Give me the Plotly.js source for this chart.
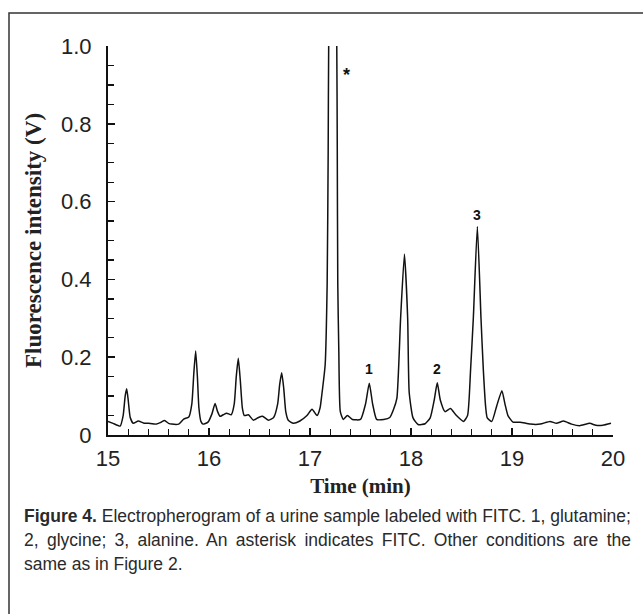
<!DOCTYPE html>
<html>
<head>
<meta charset="utf-8">
<script src="https://cdn.plot.ly/plotly-3.0.1.min.js"></script>
<style>
html,body{margin:0;padding:0;background:#fff;}
#chart{width:643px;height:614px;}
</style>
</head>
<body>
<div id="chart"></div>
<script>
// Electropherogram trace (time in min, intensity in V)
const timeMin = [15.00,15.05,15.12,15.15,15.17,15.185,15.20,15.22,15.25,15.30,15.35,15.40,15.48,15.52,15.56,15.60,15.63,15.70,15.75,15.80,
  15.83,15.85,15.868,15.885,15.90,15.92,15.94,15.99,16.03,16.06,16.085,16.11,16.14,16.175,16.22,16.25,16.27,16.29,16.31,16.33,
  16.35,16.39,16.44,16.49,16.53,16.59,16.64,16.68,16.70,16.72,16.74,16.76,16.785,16.835,16.90,16.97,17.02,17.07,17.10,17.115,
  17.15,17.17,17.18,17.185,17.225,17.265,17.27,17.275,17.285,17.30,17.33,17.37,17.42,17.50,17.55,17.587,17.62,17.66,17.73,17.79,
  17.825,17.86,17.897,17.935,17.967,17.982,18.02,18.07,18.14,18.19,18.23,18.26,18.29,18.337,18.39,18.45,18.52,18.56,18.59,18.617,
  18.657,18.693,18.716,18.74,18.755,18.80,18.85,18.90,18.93,18.96,19.01,19.08,19.18,19.28,19.376,19.44,19.51,19.59,19.67,19.77,
  19.83,19.90,19.98];
const intensityV = [0.035,0.030,0.023,0.050,0.100,0.119,0.090,0.045,0.030,0.036,0.031,0.030,0.028,0.032,0.037,0.030,0.028,0.028,0.041,0.046,
  0.080,0.160,0.216,0.150,0.070,0.035,0.028,0.033,0.055,0.081,0.060,0.048,0.052,0.056,0.052,0.080,0.150,0.197,0.140,0.070,
  0.050,0.052,0.038,0.045,0.048,0.038,0.045,0.080,0.130,0.160,0.120,0.060,0.038,0.030,0.036,0.050,0.066,0.050,0.070,0.099,
  0.180,0.390,0.730,1.000,1.600,1.000,0.733,0.390,0.220,0.060,0.040,0.050,0.040,0.040,0.080,0.133,0.080,0.040,0.040,0.045,
  0.064,0.094,0.300,0.465,0.300,0.110,0.044,0.027,0.029,0.044,0.090,0.134,0.090,0.060,0.068,0.050,0.035,0.050,0.168,0.300,
  0.536,0.300,0.168,0.070,0.044,0.035,0.076,0.114,0.080,0.050,0.033,0.033,0.028,0.028,0.035,0.030,0.036,0.028,0.024,0.030,
  0.025,0.025,0.030];

// Peak labels
const peakLabels = ["*", "1", "2", "3"];
const peakLabelX = [17.36, 17.585, 18.26, 18.655];
const peakLabelY = [0.925, 0.17, 0.17, 0.565];

// Axis ticks
const xTickVals = [15, 16, 17, 18, 19, 20];
const xTickText = ["15", "16", "17", "18", "19", "20"];
const yTickVals = [0, 0.2, 0.4, 0.6, 0.8, 1.0];
const yTickText = ["0", "0.2", "0.4", "0.6", "0.8", "1.0"];

// Caption lines
const captionLines = [
  "<b>Figure 4.</b> Electropherogram of a urine sample labeled with FITC. 1, glutamine;",
  "2, glycine; 3, alanine. An asterisk indicates FITC. Other conditions are the",
  "same as in Figure 2."
];

const W = 643, H = 614;
const L = 108, R = 613, T = 46, B = 435;
const pw = R - L, ph = B - T;
const px2paperX = p => (p - L) / pw;
const px2paperY = p => (B - p) / ph;

const annotations = [];
peakLabels.forEach((t, i) => {
  annotations.push({
    x: peakLabelX[i], y: peakLabelY[i], xref: 'x', yref: 'y', text: t, showarrow: false,
    font: {family: 'Liberation Sans, Arial, sans-serif', size: t === '*' ? 18 : 14, color: '#111', weight: 'bold'},
    xanchor: 'center', yanchor: 'middle'
  });
});
const capY = [516, 540, 564];
captionLines.forEach((t, i) => {
  annotations.push({
    x: px2paperX(22), y: px2paperY(capY[i]), xref: 'paper', yref: 'paper', text: t, showarrow: false,
    xanchor: 'left', yanchor: 'middle', align: 'left',
    font: {family: 'Liberation Sans, Arial, sans-serif', size: 17.5, color: '#2a2a2a'}
  });
});

const data = [{
  x: timeMin, y: intensityV, type: 'scatter', mode: 'lines',
  line: {color: '#111', width: 1.5, shape: 'spline', smoothing: 0.5},
  hoverinfo: 'skip'
}];

const layout = {
  width: W, height: H,
  margin: {l: L, r: W - R, t: T, b: H - B, pad: 0},
  paper_bgcolor: '#ffffff', plot_bgcolor: '#ffffff',
  showlegend: false,
  xaxis: {
    range: [15, 20], showgrid: false, zeroline: false,
    showline: true, linecolor: '#111', linewidth: 2,
    ticks: 'inside', ticklen: 7, tickwidth: 1.5, tickcolor: '#111',
    tickvals: xTickVals, ticktext: xTickText,
    minor: {dtick: 0.2, tick0: 15, ticks: 'inside', ticklen: 6, tickwidth: 1.3, tickcolor: '#111'},
    tickfont: {family: 'Liberation Sans, Arial, sans-serif', size: 22, color: '#222'},
    ticklabelstandoff: 3,
    title: {text: '<b>Time (min)</b>', standoff: 8,
      font: {family: 'Liberation Serif, Times New Roman, serif', size: 21, color: '#222'}}
  },
  yaxis: {
    range: [0, 1], showgrid: false, zeroline: false,
    showline: true, linecolor: '#111', linewidth: 2,
    ticks: 'inside', ticklen: 7, tickwidth: 1.5, tickcolor: '#111',
    tickvals: yTickVals, ticktext: yTickText,
    minor: {dtick: 0.05, tick0: 0, ticks: 'inside', ticklen: 6, tickwidth: 1.3, tickcolor: '#111'},
    tickfont: {family: 'Liberation Sans, Arial, sans-serif', size: 22, color: '#222'},
    ticklabelstandoff: 10,
    title: {text: '<b>Fluorescence intensity (V)</b>', standoff: 13,
      font: {family: 'Liberation Serif, Times New Roman, serif', size: 23, color: '#222'}}
  },
  annotations: annotations,
  shapes: [{
    type: 'rect', xref: 'paper', yref: 'paper', layer: 'below',
    x0: px2paperX(9), x1: px2paperX(660), y0: px2paperY(640), y1: px2paperY(13),
    line: {color: '#333', width: 1.5}, fillcolor: 'rgba(0,0,0,0)'
  }]
};

Plotly.newPlot('chart', data, layout, {staticPlot: true, displayModeBar: false}).then(gd => {
  // justify the second caption line like the printed caption
  const targetRight = 629;
  gd.querySelectorAll('.annotation-text').forEach(el => {
    if (el.textContent.indexOf('2, glycine') === 0) {
      const bb = el.getBBox();
      const spaces = (el.textContent.match(/ /g) || []).length;
      const extra = targetRight - (22 + bb.width);
      if (spaces > 0 && extra > 0) el.style.wordSpacing = (extra / spaces).toFixed(2) + 'px';
    }
  });
});
</script>
</body>
</html>
